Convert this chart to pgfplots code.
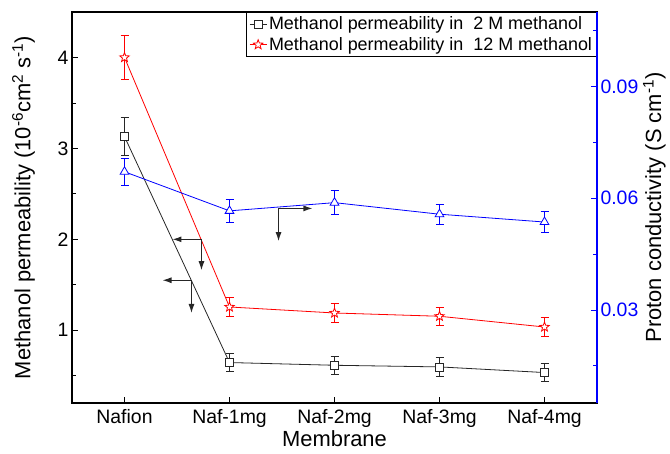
\documentclass[border=0pt]{standalone}
\usepackage{pgfplots}
\pgfplotsset{compat=1.18}
\usetikzlibrary{arrows.meta}
\usepackage{fontspec}
\setmainfont{Liberation Sans}
\pgfdeclareplotmark{ostar}{%
 \pgfpathmoveto{\pgfpointpolar{90}{\pgfplotmarksize}}%
 \pgfpathlineto{\pgfpointpolar{126}{0.42\pgfplotmarksize}}%
 \pgfpathlineto{\pgfpointpolar{162}{\pgfplotmarksize}}%
 \pgfpathlineto{\pgfpointpolar{198}{0.42\pgfplotmarksize}}%
 \pgfpathlineto{\pgfpointpolar{234}{\pgfplotmarksize}}%
 \pgfpathlineto{\pgfpointpolar{270}{0.42\pgfplotmarksize}}%
 \pgfpathlineto{\pgfpointpolar{306}{\pgfplotmarksize}}%
 \pgfpathlineto{\pgfpointpolar{342}{0.42\pgfplotmarksize}}%
 \pgfpathlineto{\pgfpointpolar{18}{\pgfplotmarksize}}%
 \pgfpathlineto{\pgfpointpolar{54}{0.42\pgfplotmarksize}}%
 \pgfpathclose
 \pgfusepathqfillstroke}
\begin{document}
\begin{tikzpicture}[font=\fontsize{15}{18}\selectfont]
\begin{axis}[
 scale only axis, width=525bp, height=391bp,
 xmin=-0.5, xmax=4.5, ymin=0.2, ymax=4.5,
 xtick={0,1,2,3,4}, xticklabels={Nafion,Naf-1mg,Naf-2mg,Naf-3mg,Naf-4mg},
 ytick={1,2,3,4}, minor ytick={0.5,1.5,2.5,3.5},
 tick align=inside, xtick pos=bottom, ytick pos=left,
 major tick length=6bp, minor tick length=4bp,
 tick style={black, line width=0.8bp},
 axis line style={line width=1.2bp},
 /pgf/number format/assume math mode=true,
 ticklabel style={font=\fontsize{19.5}{20}\selectfont},
 xticklabel style={yshift=-3bp},
 label style={font=\fontsize{22}{24}\selectfont},
 xlabel={Membrane},
 ylabel={Methanol permeability (10\textsuperscript{-6}cm\textsuperscript{2} s\textsuperscript{-1})},
 xlabel style={yshift=4bp},
 ylabel style={yshift=16bp},
 legend style={at={(1,1)}, anchor=north east, draw=black, fill=white,
   font=\fontsize{18}{19}\selectfont, row sep=2bp, inner sep=2.5bp,
   cells={anchor=west}, line width=1bp},
 legend cell align=left,
 clip=false,
]
\coordinate (bl) at (rel axis cs:0,0);
\coordinate (tr) at (rel axis cs:1,1);
\addplot[black!85, line width=0.8bp, mark=square*, mark size=4bp,
  mark options={fill=white, line width=0.8bp},
  error bars/.cd, y dir=both, y explicit,
  error bar style={line width=0.8bp},
  error mark options={rotate=90, mark size=4bp, line width=0.8bp}]
 coordinates {(0,3.13) +- (0,0.21) (1,0.645) +- (0,0.10) (2,0.615) +- (0,0.10)
  (3,0.597) +- (0,0.10) (4,0.535) +- (0,0.10)};
\addlegendentry{Methanol permeability in\ \ 2 M methanol}
\addplot[red, line width=0.8bp, mark=ostar, mark size=5bp,
  mark options={fill=white, line width=0.8bp},
  error bars/.cd, y dir=both, y explicit,
  error bar style={line width=0.8bp},
  error mark options={rotate=90, mark size=4bp, line width=0.8bp}]
 coordinates {(0,4.00) +- (0,0.24) (1,1.256) +- (0,0.10) (2,1.19) +- (0,0.10)
  (3,1.154) +- (0,0.10) (4,1.036) +- (0,0.10)};
\addlegendentry{Methanol permeability in\ \ 12 M methanol}
\tikzset{arr/.style={black!85, line width=1.1bp, -{Latex[length=9bp,width=6bp]}}}
\draw[arr] (axis cs:0.733,2.0) -- (axis cs:0.457,2.0);
\draw[arr] (axis cs:0.733,2.0) -- (axis cs:0.733,1.66);
\draw[arr] (axis cs:0.638,1.55) -- (axis cs:0.362,1.55);
\draw[arr] (axis cs:0.638,1.55) -- (axis cs:0.638,1.19);
\draw[arr] (axis cs:1.467,2.34) -- (axis cs:1.79,2.34);
\draw[arr] (axis cs:1.467,2.34) -- (axis cs:1.467,1.98);
\end{axis}
\begin{axis}[
 scale only axis, width=525bp, height=391bp,
 xmin=-0.5, xmax=4.5, ymin=0.005, ymax=0.11,
 axis x line=none, axis y line*=right,
 ytick={0.03,0.06,0.09}, minor ytick={0.015,0.045,0.075,0.105},
 tick align=inside,
 major tick length=6bp, minor tick length=4bp,
 y axis line style={blue, line width=1.2bp, -},
 ytick style={blue, line width=0.8bp},
 minor tick style={blue, line width=0.8bp},
 /pgf/number format/assume math mode=true,
 yticklabel style={blue, font=\fontsize{19.5}{20}\selectfont,
   /pgf/number format/.cd, fixed, fixed zerofill, precision=2},
 label style={font=\fontsize{22}{24}\selectfont},
 ylabel={Proton conductivity (S cm\textsuperscript{-1})},
 ylabel style={yshift=2bp},
 clip=false,
]
\addplot[blue, line width=0.8bp, mark=triangle*, mark size=5bp,
  mark options={fill=white, line width=0.8bp},
  error bars/.cd, y dir=both, y explicit,
  error bar style={line width=0.8bp},
  error mark options={rotate=90, mark size=4bp, line width=0.8bp}]
 coordinates {(0,0.0671) +- (0,0.0036) (1,0.0566) +- (0,0.0030) (2,0.0588) +- (0,0.0032)
  (3,0.0557) +- (0,0.0027) (4,0.0536) +- (0,0.0028)};
\end{axis}
\pgfresetboundingbox
\path[use as bounding box] ([shift={(-72bp,-50bp)}]bl) rectangle ([shift={(73bp,12bp)}]tr);
\end{tikzpicture}
\end{document}
